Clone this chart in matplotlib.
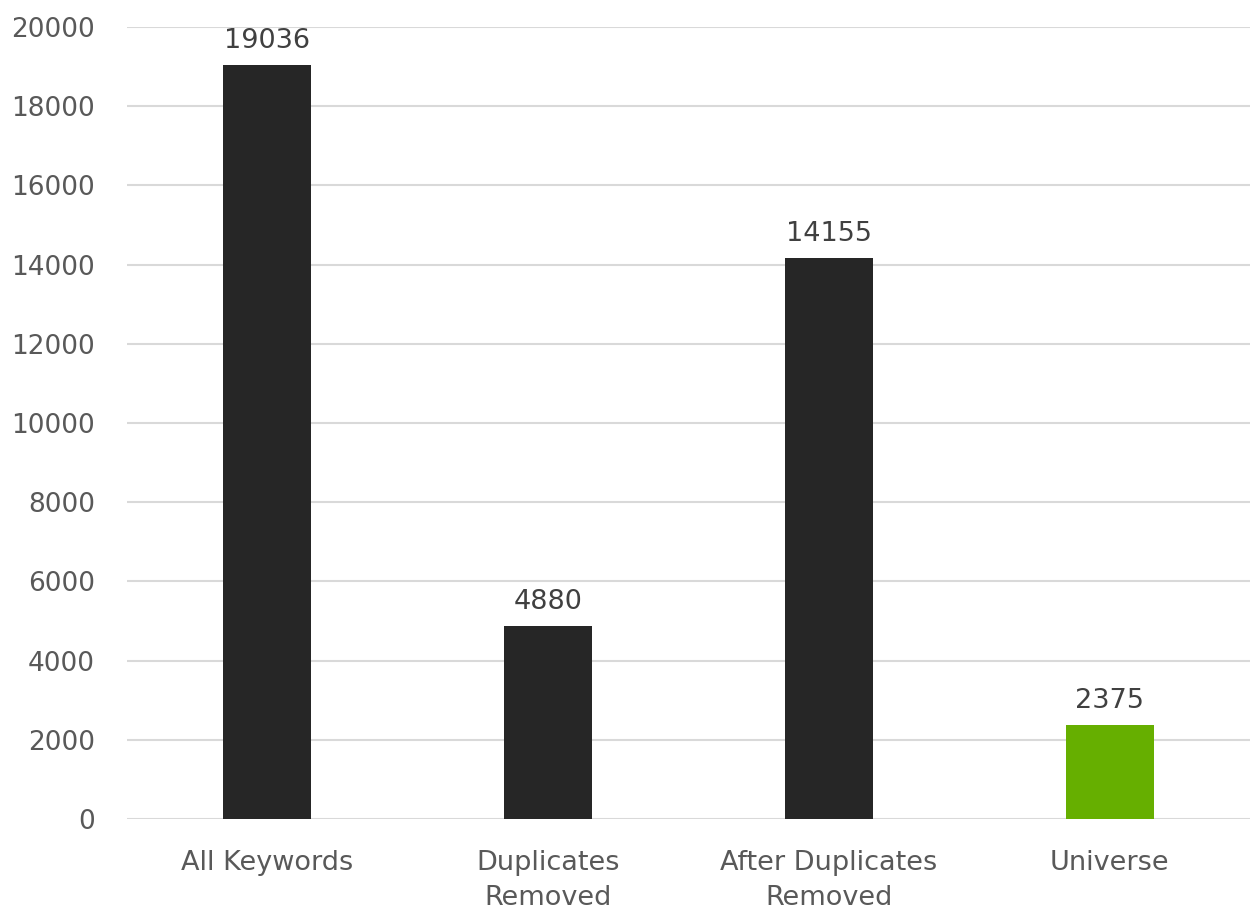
import matplotlib
matplotlib.use("Agg")
import matplotlib.pyplot as plt

categories = ["All Keywords", "Duplicates\nRemoved", "After Duplicates\nRemoved", "Universe"]
counts = [19036, 4880, 14155, 2375]
bar_colors = ["#262626", "#262626", "#262626", "#66AF00"]
yticks = [0, 2000, 4000, 6000, 8000, 10000, 12000, 14000, 16000, 18000, 20000]

plt.rcParams["font.family"] = "DejaVu Sans"

fig = plt.figure(figsize=(12.5, 9.13), dpi=100)
ax = fig.add_axes([0.1016, 0.103, 0.8984, 0.8674])

x = range(len(categories))
bars = ax.bar(x, counts, width=0.313, color=bar_colors, zorder=3)

for rect, val in zip(bars, counts):
    ax.annotate(str(val), (rect.get_x() + rect.get_width() / 2, val),
                xytext=(0, 8), textcoords="offset points",
                ha="center", va="bottom", fontsize=19.5, color="#404040")

ax.set_xlim(-0.5, len(categories) - 0.5)
ax.set_ylim(0, 20000)
ax.set_yticks(yticks)
ax.set_xticks(list(x))
ax.set_xticklabels(categories, linespacing=1.45)
ax.tick_params(axis="y", length=0, pad=23, labelsize=19, labelcolor="#595959")
ax.tick_params(axis="x", length=0, pad=22, labelsize=19.5, labelcolor="#595959")

ax.grid(axis="y", color="#D9D9D9", linewidth=1.5, zorder=0)
for s in ["top", "right", "left", "bottom"]:
    ax.spines[s].set_visible(False)

plt.savefig("out.png", dpi=100)
